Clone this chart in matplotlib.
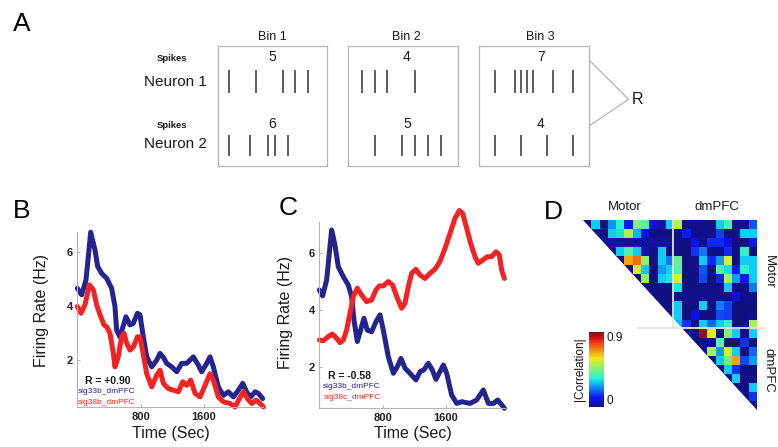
import numpy as np
import matplotlib
matplotlib.use('Agg')
import matplotlib.pyplot as plt
from matplotlib.patches import Polygon
from matplotlib.colors import ListedColormap

plt.rcParams['font.family'] = ['Liberation Sans', 'DejaVu Sans']

W, H = 778, 447  # figure size in pixels

## ------------- data ---------------####
# panel A: spike times as fraction of each bin
bin_names = ['Bin 1', 'Bin 2', 'Bin 3']
neuron_names = ['Neuron 1', 'Neuron 2']
spike_counts = [[5, 4, 7], [6, 5, 4]]
spikes_n1 = [[0.106, 0.349, 0.593, 0.705, 0.827],
             [0.122, 0.244, 0.358, 0.610],
             [0.143, 0.325, 0.377, 0.432, 0.492, 0.669, 0.857]]
spikes_n2 = [[0.103, 0.294, 0.461, 0.522, 0.638],
             [0.244, 0.488, 0.610, 0.732, 0.847],
             [0.143, 0.377, 0.614, 0.857]]

# panel B: firing rates (Hz) vs time (sec)
b_blue_t = [0, 55, 110, 169, 223, 257, 308, 371, 434, 476, 497, 539, 590, 615, 666, 708,
            759, 792, 834, 877, 940, 1003, 1045, 1096, 1129, 1193, 1256, 1319, 1382, 1466,
            1530, 1572, 1635, 1677, 1719, 1782, 1845, 1909, 1972, 2035, 2090, 2149, 2191,
            2246, 2288, 2343]
b_blue_fr = [4.65, 4.41, 4.96, 6.72, 6.07, 5.46, 5.2, 5.02, 4.65, 3.98, 3.1, 2.86, 3.36, 3.6,
             3.3, 3.36, 3.73, 3.67, 2.86, 2.12, 1.75, 2.0, 2.25, 2.06, 1.88, 1.75, 1.57, 1.88,
             1.88, 2.12, 1.81, 1.57, 1.88, 2.12, 1.75, 1.01, 0.7, 0.83, 0.64, 0.89, 1.14, 0.77,
             0.64, 0.83, 0.77, 0.58]
b_red_t = [0, 46, 97, 152, 202, 244, 287, 337, 371, 413, 455, 476, 518, 560, 590, 624, 666,
           708, 759, 792, 843, 877, 940, 1003, 1045, 1087, 1150, 1214, 1277, 1332, 1382, 1433,
           1488, 1551, 1614, 1677, 1719, 1782, 1845, 1930, 1993, 2048, 2099, 2149, 2204, 2259,
           2309, 2351]
b_red_fr = [3.98, 3.73, 4.04, 4.78, 4.6, 4.04, 3.67, 3.3, 3.23, 2.99, 2.25, 1.75, 2.12, 2.86,
            2.99, 2.62, 2.37, 2.49, 2.86, 2.86, 2.06, 1.5, 1.01, 1.44, 1.63, 1.14, 0.95, 0.89,
            0.83, 1.2, 1.07, 1.26, 0.77, 0.64, 1.07, 1.5, 1.26, 0.64, 0.46, 0.4, 0.27, 0.58,
            0.83, 0.58, 0.4, 0.52, 0.4, 0.27]

# panel C
c_blue_t = [0, 42, 93, 156, 198, 240, 304, 367, 409, 439, 481, 523, 565, 607, 662, 717, 768,
            810, 873, 937, 987, 1034, 1084, 1148, 1223, 1275, 1324, 1379, 1430, 1476, 1527,
            1570, 1612, 1675, 1739, 1802, 1907, 1992, 2076, 2140, 2203, 2258, 2308, 2342]
c_blue_fr = [4.7, 4.49, 5.05, 6.79, 6.27, 5.51, 5.16, 4.87, 4.47, 3.65, 2.9, 3.3, 3.71, 3.3,
             3.24, 3.59, 3.83, 3.3, 2.37, 1.79, 2.02, 2.31, 1.97, 1.79, 1.56, 1.85, 1.91, 2.14,
             1.91, 1.58, 1.85, 2.08, 1.79, 1.03, 0.74, 0.8, 0.74, 0.86, 1.21, 0.74, 0.74, 0.86,
             0.69, 0.57]
c_red_t = [0, 51, 114, 165, 220, 262, 304, 346, 388, 431, 481, 536, 599, 662, 717, 759, 810,
           873, 928, 979, 1042, 1084, 1126, 1168, 1223, 1275, 1337, 1401, 1463, 1527, 1591,
           1654, 1717, 1772, 1814, 1865, 1915, 1970, 2012, 2067, 2126, 2181, 2236, 2278, 2307,
           2342]
c_red_fr = [2.95, 2.93, 3.07, 3.16, 3.01, 2.86, 2.95, 3.3, 3.88, 4.47, 4.76, 4.52, 4.29, 4.35,
            4.7, 4.84, 4.84, 4.99, 4.87, 4.47, 4.06, 4.23, 4.81, 5.28, 5.42, 5.22, 5.1, 5.28,
            5.42, 5.69, 6.15, 6.67, 7.2, 7.47, 7.37, 6.85, 6.33, 5.86, 5.63, 5.74, 5.86, 5.86,
            6.03, 5.92, 5.4, 5.1]

time_ticks = [800, 1600]
rate_ticks = [2, 4, 6]

# panel D: |correlation|, upper triangle, row r holds columns r..20
corr_rows = [
    [0.00, 0.30, 0.00, 0.24, 0.35, 0.12, 0.45, 0.40, 0.08, 0.03, 0.30, 0.52, 0.01, 0.01, 0.01, 0.01, 0.30, 0.38, 0.01, 0.01, 0.18],
    [0.00, 0.00, 0.30, 0.32, 0.52, 0.28, 0.09, 0.00, 0.00, 0.00, 0.00, 0.12, 0.01, 0.01, 0.01, 0.16, 0.01, 0.01, 0.30, 0.30],
    [0.02, 0.03, 0.03, 0.03, 0.03, 0.03, 0.03, 0.03, 0.03, 0.00, 0.00, 0.09, 0.00, 0.14, 0.14, 0.09, 0.00, 0.00, 0.12],
    [0.00, 0.30, 0.40, 0.30, 0.04, 0.00, 0.30, 0.00, 0.00, 0.00, 0.15, 0.22, 0.00, 0.00, 0.14, 0.00, 0.36, 0.00],
    [0.00, 0.66, 0.72, 0.47, 0.00, 0.30, 0.22, 0.43, 0.00, 0.01, 0.30, 0.14, 0.25, 0.56, 0.00, 0.30, 0.30],
    [0.00, 0.55, 0.30, 0.00, 0.25, 0.30, 0.40, 0.00, 0.01, 0.18, 0.00, 0.40, 0.32, 0.12, 0.35, 0.30],
    [0.00, 0.48, 0.00, 0.30, 0.33, 0.55, 0.00, 0.00, 0.17, 0.00, 0.13, 0.50, 0.25, 0.12, 0.30],
    [0.00, 0.00, 0.00, 0.00, 0.33, 0.00, 0.00, 0.00, 0.00, 0.00, 0.30, 0.00, 0.00, 0.22],
    [0.00, 0.00, 0.00, 0.01, 0.01, 0.01, 0.01, 0.01, 0.01, 0.01, 0.07, 0.01, 0.01],
    [0.00, 0.00, 0.30, 0.00, 0.00, 0.30, 0.00, 0.22, 0.16, 0.00, 0.00, 0.00],
    [0.00, 0.30, 0.00, 0.09, 0.00, 0.00, 0.17, 0.16, 0.00, 0.00, 0.01],
    [0.28, 0.15, 0.01, 0.30, 0.20, 0.30, 0.36, 0.00, 0.01, 0.50],
    [0.00, 0.00, 0.88, 0.58, 0.00, 0.46, 0.30, 0.00, 0.30],
    [0.00, 0.00, 0.00, 0.42, 0.00, 0.00, 0.15, 0.00],
    [0.00, 0.50, 0.25, 0.56, 0.30, 0.00, 0.20],
    [0.00, 0.30, 0.43, 0.66, 0.17, 0.25],
    [0.00, 0.30, 0.15, 0.00, 0.00],
    [0.00, 0.30, 0.00, 0.00],
    [0.00, 0.00, 0.30],
    [0.00, 0.15],
    [0.00],
]
region_names = ['Motor', 'dmPFC']

BLUE = '#24248e'
RED = '#f42222'
GREY = '#b4b4b4'
TXT = '#1a1a1a'


def px_axes(fig, x0, y0, x1, y1):
    """axes from pixel box (top-left origin)"""
    return fig.add_axes([x0 / W, 1 - y1 / H, (x1 - x0) / W, (y1 - y0) / H])


fig = plt.figure(figsize=(W / 100, H / 100), dpi=100)

# overlay for free text / connector lines
ov = fig.add_axes([0, 0, 1, 1])
ov.set_xlim(0, W)
ov.set_ylim(H, 0)
ov.axis('off')

for lab, (x, y) in zip('ABCD', [(22, 24), (22, 211), (288, 208), (553, 212)]):
    ov.text(x, y, lab, fontsize=19, ha='center', va='center', color='black')

## ------------- panel A ---------------####
bin_boxes = [(217.7, 327.3), (348.3, 457.7), (479.3, 589.0)]
count_x = [0.5, 0.535, 0.56]
for b, (x0, x1) in enumerate(bin_boxes):
    ax = px_axes(fig, x0, 46, x1, 165.7)
    ax.set_xlim(0, 1)
    ax.set_ylim(1, 0)
    ax.set_xticks([])
    ax.set_yticks([])
    for s in ax.spines.values():
        s.set_color(GREY)
        s.set_linewidth(0.9)
    ax.vlines(spikes_n1[b], 0.20, 0.39, color='#333333', lw=1.1)
    ax.vlines(spikes_n2[b], 0.745, 0.92, color='#333333', lw=1.1)
    ax.text(count_x[b], 0.09, str(spike_counts[0][b]), ha='center', va='center', fontsize=10, color=TXT)
    ax.text(count_x[b], 0.652, str(spike_counts[1][b]), ha='center', va='center', fontsize=10, color=TXT)
    ax.text(count_x[b], 1.072, bin_names[b], transform=ax.transAxes, ha='center', va='center',
            fontsize=9, color=TXT)

for name, yn, ys in zip(neuron_names, [81.7, 144], [58.3, 126]):
    ov.text(172, ys, 'Spikes', fontsize=6.8, fontweight='bold', ha='center', va='center', color=TXT)
    ov.text(175, yn, name, fontsize=11, ha='center', va='center', color=TXT)

ov.plot([589, 628.5, 589], [60, 99.3, 126], color=GREY, lw=0.9)
ov.text(632, 99, 'R', fontsize=11.5, ha='left', va='center', color=TXT)


## ------------- panels B and C ---------------####
def rate_axes(box, ylim):
    ax = px_axes(fig, *box)
    ax.patch.set_visible(False)
    ax.set_xlim(0, 2350)
    ax.set_ylim(*ylim)
    ax.set_xticks(time_ticks)
    ax.set_yticks(rate_ticks)
    for s in ['top', 'right']:
        ax.spines[s].set_visible(False)
    for s in ['left', 'bottom']:
        ax.spines[s].set_color(GREY)
        ax.spines[s].set_linewidth(0.8)
    ax.tick_params(direction='in', length=2.5, width=0.8, color=GREY, labelsize=8,
                   labelcolor='#222222')
    ax.tick_params(axis='x', pad=3.5)
    ax.tick_params(axis='y', pad=3)
    for lbl in ax.get_xticklabels() + ax.get_yticklabels():
        lbl.set_fontweight('bold')
    return ax


def rate_panel(box, ylim, blue, red, r_text, names, lab_pos):
    ax = rate_axes(box, ylim)
    ax.plot(*blue, color=BLUE, lw=3.6, solid_joinstyle='round', solid_capstyle='round', clip_on=False)
    ax.plot(*red, color=RED, lw=3.6, solid_joinstyle='round', solid_capstyle='round', clip_on=False)
    ax.set_ylabel('Firing Rate (Hz)', fontsize=11.5, va='center', color=TXT)
    ax.set_xlabel('Time (Sec)', fontsize=11.5, va='center', color=TXT)
    ax.yaxis.set_label_coords(*lab_pos[0])
    ax.xaxis.set_label_coords(*lab_pos[1])
    (rx, ry), (bx, by), (qx, qy) = lab_pos[2]
    ax.text(rx, ry, r_text, transform=ax.transAxes, fontsize=7.5, fontweight='bold',
            ha='center', va='center', color=TXT)
    ax.text(bx, by, names[0], transform=ax.transAxes, fontsize=6, ha='center', va='center', color=BLUE)
    ax.text(qx, qy, names[1], transform=ax.transAxes, fontsize=6, ha='center', va='center', color=RED)
    return ax


rate_panel((77.3, 231.7, 263.3, 406.7), (0.28, 6.74),
           (b_blue_t, b_blue_fr), (b_red_t, b_red_fr), 'R = +0.90',
           ['sig33b_dmPFC', 'sig38b_dmPFC'],
           [(-0.191, 0.549), (0.502, -0.152), ((0.165, 0.145), (0.156, 0.085), (0.156, 0.026))])

rate_panel((319.3, 221.7, 505.0, 408.0), (0.58, 7.08),
           (c_blue_t, c_blue_fr), (c_red_t, c_red_fr), 'R = -0.58',
           ['sig33b_dmPFC', 'sig38c_dmPFC'],
           [(-0.184, 0.514), (0.505, -0.136), ((0.165, 0.173), (0.176, 0.113), (0.178, 0.055))])

## ------------- panel D ---------------####
n = len(corr_rows)
M = np.full((n, n), np.nan)
for r, row in enumerate(corr_rows):
    M[r, r:] = row

jet = plt.get_cmap('jet')(np.linspace(0, 1, 256))
jet[:, :3] = jet[:, :3] * 0.88 + 0.12 * np.array([0.55, 0.55, 0.6])
cmap = ListedColormap(jet)

axd = px_axes(fig, 583.3, 220, 757, 410)
im = axd.imshow(np.ma.masked_invalid(M), cmap=cmap, vmin=0, vmax=0.9, extent=(0, n, n, 0),
                aspect='auto', interpolation='nearest')
tri = Polygon([(0, 0), (n, 0), (n, n)], closed=True, transform=axd.transData)
im.set_clip_path(tri)
axd.set_xlim(0, n)
axd.set_ylim(n, 0)
axd.axis('off')
axd.plot([10.8, 10.8], [0, 11.9], color='#e4e4e4', lw=1.3, clip_on=False)
axd.plot([6.6, 21.7], [11.9, 11.9], color='#e4e4e4', lw=1.3, clip_on=False)

ov.text(625, 207, region_names[0], fontsize=9.5, ha='center', va='center', color=TXT)
ov.text(717, 207, region_names[1], fontsize=9.5, ha='center', va='center', color=TXT)
ov.text(769, 272, region_names[0], fontsize=9.5, ha='center', va='center', rotation=270, color=TXT)
ov.text(769, 370, region_names[1], fontsize=9.5, ha='center', va='center', rotation=270, color=TXT)

cax = px_axes(fig, 589, 332, 604, 407)
cb = fig.colorbar(im, cax=cax, ticks=[0, 0.9])
cb.outline.set_visible(False)
cax.set_yticklabels(['0', '0.9'])
cax.tick_params(length=0, pad=2, labelsize=8.5, labelcolor=TXT)
for lbl, va in zip(cax.get_yticklabels(), ['bottom', 'top']):
    lbl.set_va(va)
cax.text(-0.62, 0.5, '|Correlation|', transform=cax.transAxes, rotation=90, ha='center',
         va='center', fontsize=8.5, color=TXT)

fig.savefig('out.png', dpi=100)
